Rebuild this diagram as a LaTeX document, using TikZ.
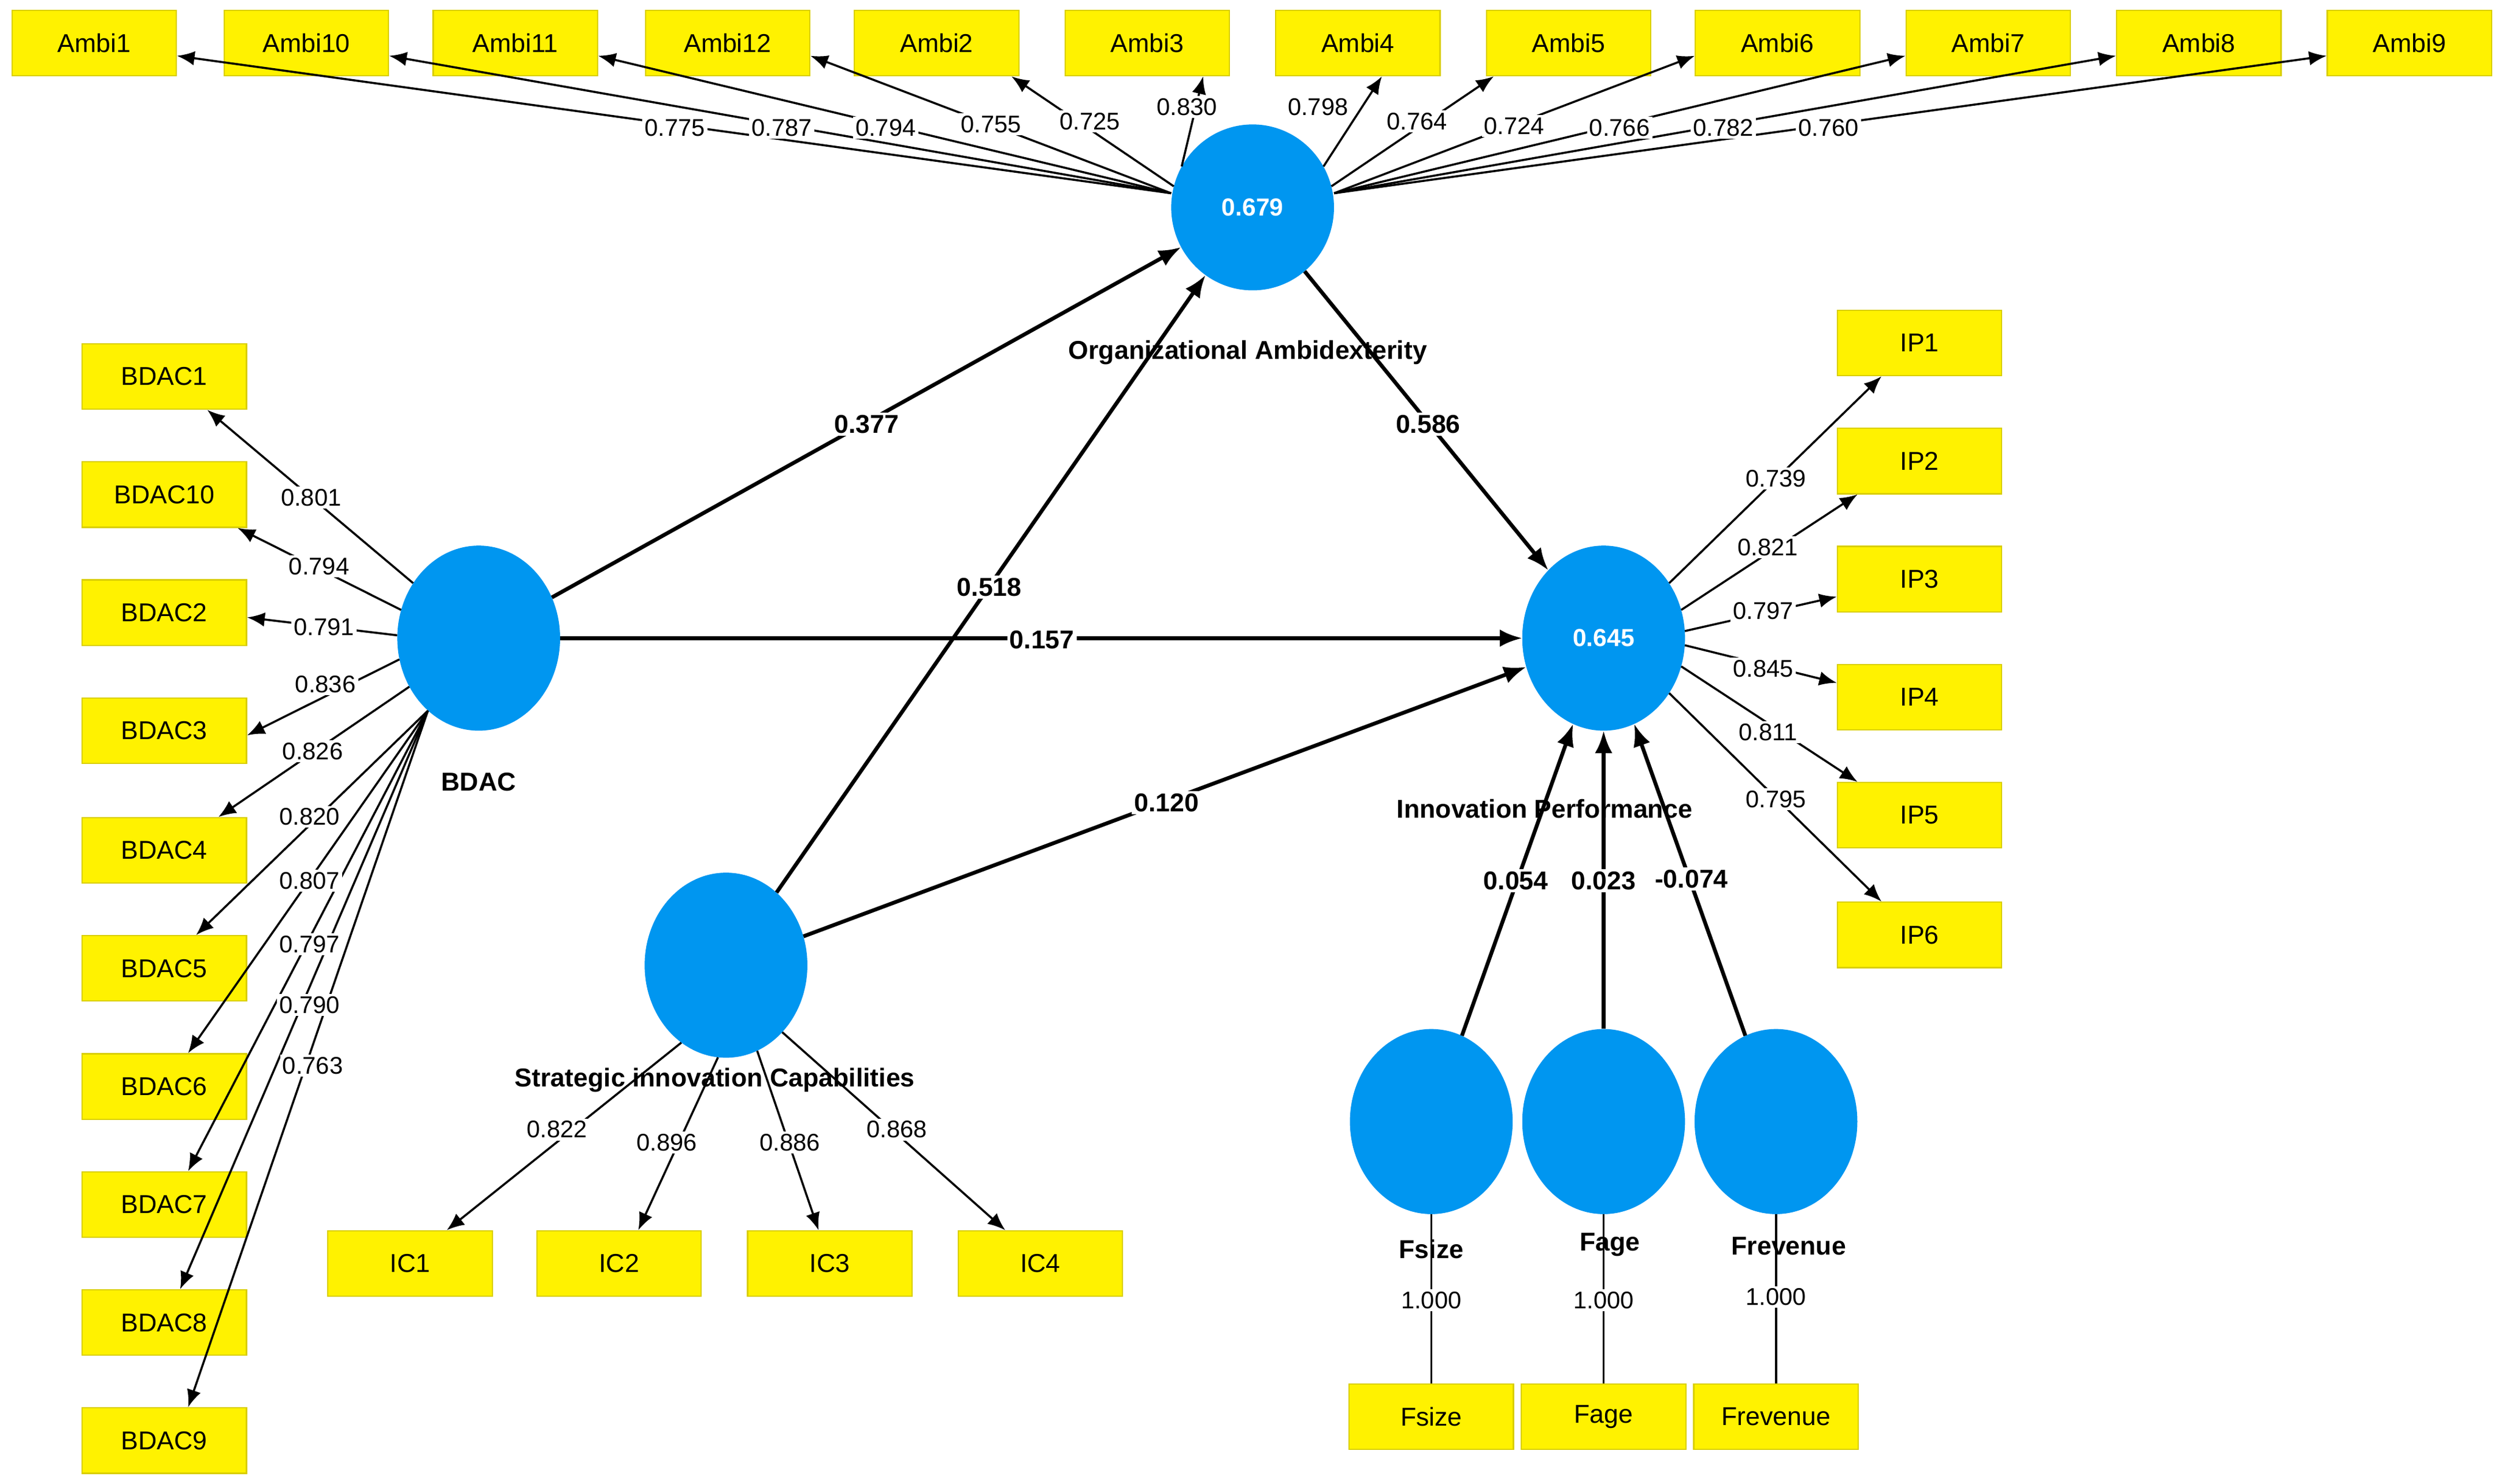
\documentclass[tikz,border=0pt]{standalone}
\usepackage{fontspec}
\setmainfont{Liberation Sans}
\usetikzlibrary{arrows.meta,calc,shapes.geometric}
\definecolor{ybox}{RGB}{255,242,0}
\definecolor{lv}{RGB}{0,150,240}
\begin{document}
\begin{tikzpicture}[x=1mm,y=-1mm,
 box/.style={draw=ybox!85!black,line width=0.8mm,fill=ybox,minimum width=103mm,minimum height=41mm,inner sep=0pt,font=\fontsize{46}{52}\selectfont},
 lat/.style={fill=lv,draw=none,ellipse,minimum width=102mm,minimum height=122mm,inner sep=0pt,text=white,font=\bfseries\fontsize{44}{50}\selectfont},
 ld/.style={line width=1.3mm,-{Latex[length=11mm,width=9mm]}},
 pth/.style={line width=2.4mm,-{Latex[length=14mm,width=11mm]}},
 ll/.style={fill=white,inner sep=1.5mm,font=\fontsize{43}{48}\selectfont},
 pl/.style={fill=white,inner sep=1.5mm,font=\bfseries\fontsize{46}{52}\selectfont},
 nm/.style={font=\bfseries\fontsize{46}{52}\selectfont,inner sep=0pt}]
\useasboundingbox[fill=white] (0,0) rectangle (1563,930);
\foreach \n/\x in {1/59,10/192,11/323,12/456,2/587,3/719,4/851,5/983,6/1114,7/1246,8/1378,9/1510}
  \node[box] (a\n) at (\x,27) {Ambi\n};
\foreach \n/\y in {1/236,10/310,2/384,3/458,4/533,5/607,6/681,7/755,8/829,9/903}
  \node[box] (b\n) at (103,\y) {BDAC\n};
\foreach \n/\y in {1/215,2/289,3/363,4/437,5/511,6/586}
  \node[box] (i\n) at (1203,\y) {IP\n};
\foreach \n/\x in {1/257,2/388,3/520,4/652}
  \node[box] (c\n) at (\x,792) {IC\n};
\node[box] (fs) at (897,888) {Fsize};
\node[box] (fa) at (1005,888) {Fage};
\node[box] (fr) at (1113,888) {Frevenue};
\node[lat,minimum width=102mm,minimum height=104mm] (oa) at (785,130) {0.679};
\node[lat,minimum height=116mm] (bd) at (300,400) {};
\node[lat,minimum height=116mm] (ip) at (1005,400) {0.645};
\node[lat,minimum height=116mm] (si) at (455,605) {};
\node[lat,minimum height=116mm] (cs) at (897,703) {};
\node[lat,minimum height=116mm] (ca) at (1005,703) {};
\node[lat,minimum height=116mm] (cr) at (1113,703) {};
% Ambi loadings
\foreach \n in {1,10,11,12}
  \draw[ld] (oa.west|-oa.170) -- ($(a\n.east)+(0,8)$);
\draw[ld] (oa.165) -- ($(a2.south east)+(-5,0)$);
\draw[ld] (oa.150) -- ($(a3.south)+(35,0)$);
\draw[ld] (oa.30) -- ($(a4.south)+(15,0)$);
\draw[ld] (oa.15) -- ($(a5.south west)+(5,0)$);
\foreach \n in {6,7,8,9}
  \draw[ld] (oa.east|-oa.10) -- ($(a\n.west)+(0,8)$);
\foreach \t/\x/\y in {0.775/423/80,0.787/490/80,0.794/555/80,0.755/621/78,0.725/683/76,0.830/744/67,0.798/826/67,0.764/888/76,0.724/949/79,0.766/1015/80,0.782/1080/80,0.760/1146/80}
  \node[ll] at (\x,\y) {\t};
% BDAC loadings
\draw[ld] (bd.140) -- ($(b1.south east)+(-25,0)$);
\draw[ld] (bd.160) -- ($(b10.south east)+(-6,0)$);
\draw[ld] (bd.178) -- ($(b2.east)+(0,3)$);
\draw[ld] (bd.195) -- ($(b3.south east)+(0,-18)$);
\draw[ld] (bd.215) -- ($(b4.north east)+(-18,0)$);
\foreach \n/\o in {5/-32,6/-37,7/-37,8/-42,9/-37}
  \draw[ld] (bd.235) -- ($(b\n.north east)+(\o,0)$);
\foreach \t/\x/\y in {0.801/195/312,0.794/200/355,0.791/203/393,0.836/204/429,0.826/196/471,0.820/194/512,0.807/194/552,0.797/194/592,0.790/194/630,0.763/196/668}
  \node[ll] at (\x,\y) {\t};
% IP loadings
\draw[ld] (ip.40) -- ($(i1.south west)+(28,0)$);
\draw[ld] (ip.20) -- ($(i2.south west)+(13,0)$);
\draw[ld] (ip.5) -- ($(i3.west)+(0,11)$);
\draw[ld] (ip.-5) -- ($(i4.west)+(0,-9)$);
\draw[ld] (ip.-20) -- ($(i5.north west)+(13,0)$);
\draw[ld] (ip.-40) -- ($(i6.north west)+(28,0)$);
\foreach \t/\x/\y in {0.739/1113/300,0.821/1108/343,0.797/1105/383,0.845/1105/419,0.811/1108/459,0.795/1113/501}
  \node[ll] at (\x,\y) {\t};
% IC loadings
\draw[ld] (si.240) -- ($(c1.north)+(23,0)$);
\draw[ld] (si.265) -- ($(c2.north)+(12,0)$);
\draw[ld] (si.290) -- ($(c3.north)+(-7,0)$);
\draw[ld] (si.310) -- ($(c4.north)+(-22,0)$);
\foreach \t/\x/\y in {0.822/349/708,0.896/418/716,0.886/495/716,0.868/562/708}
  \node[ll] at (\x,\y) {\t};
% controls
\draw[line width=1.3mm] (cs) -- (fs.north);
\draw[line width=1.3mm] (ca) -- (fa.north);
\draw[line width=1.3mm] (cr) -- (fr.north);
% paths
\draw[pth] (bd) -- (oa);
\draw[pth] (oa) -- (ip);
\draw[pth] (bd) -- (ip);
\draw[pth] (si) -- (oa);
\draw[pth] (si) -- (ip);
\draw[pth] (cs) -- (ip);
\draw[pth] (ca) -- (ip);
\draw[pth] (cr) -- (ip);
\foreach \t/\x/\y in {0.377/543/266,0.586/895/266,0.157/653/401,0.518/620/368,0.120/731/503,0.054/950/552,0.023/1005/552,-0.074/1060/551}
  \node[pl] at (\x,\y) {\t};
% names
\node[nm] at (782,221) {Organizational Ambidexterity};
\node[nm] at (300,490) {BDAC};
\node[nm] at (968,507) {Innovation Performance};
\node[nm] at (448,677) {Strategic innovation Capabilities};
\node[nm] at (897,783) {Fsize};
\node[nm] at (1009,780) {Fage};
\node[nm] at (1121,781) {Frevenue};
\node[ll] at (897,815) {1.000};
\node[ll] at (1005,815) {1.000};
\node[ll] at (1113,813) {1.000};
\end{tikzpicture}
\end{document}
